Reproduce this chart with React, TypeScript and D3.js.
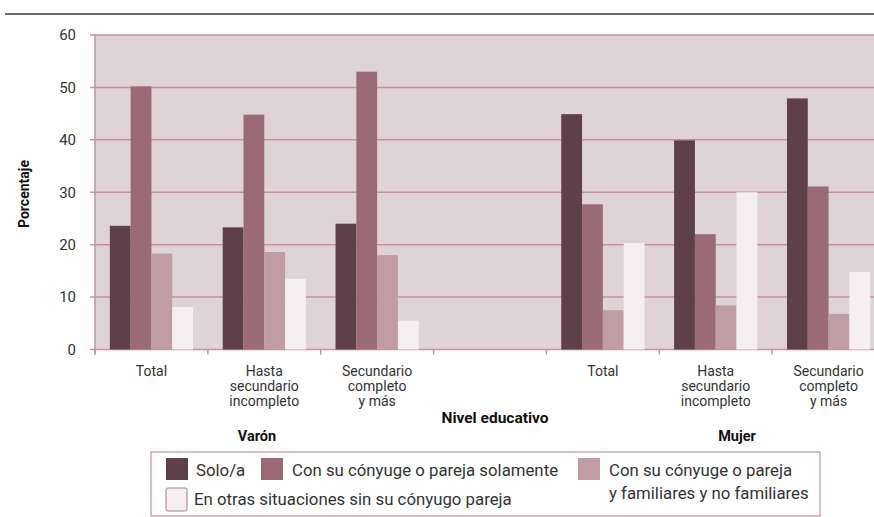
import React from "react";
import * as d3 from "d3";

const categories = ["V-Total", "V-Hasta", "V-Sec", "gap", "M-Total", "M-Hasta", "M-Sec"];
const categoryLabels: string[][] = [
  ["Total"],
  ["Hasta", "secundario", "incompleto"],
  ["Secundario", "completo", "y más"],
  [],
  ["Total"],
  ["Hasta", "secundario", "incompleto"],
  ["Secundario", "completo", "y más"],
];
const seriesNames = [
  "Solo/a",
  "Con su cónyuge o pareja solamente",
  "Con su cónyuge o pareja y familiares y no familiares",
  "En otras situaciones sin su cónyugo pareja",
];
const solo = [23.6, 23.3, 24.0, null, 44.9, 39.9, 47.9];
const conPareja = [50.2, 44.8, 53.0, null, 27.7, 22.0, 31.1];
const conParejaFam = [18.3, 18.6, 18.0, null, 7.5, 8.4, 6.8];
const otras = [8.1, 13.5, 5.5, null, 20.3, 30.0, 14.8];
const yTicks = [0, 10, 20, 30, 40, 50, 60];

const series = [solo, conPareja, conParejaFam, otras];
const colors = ["#5e404a", "#9a6a76", "#c09da5", "#f5eff1"];
const gridColor = "#c98fa0";
const font = "Roboto, 'Liberation Sans', sans-serif";
const textColor = "#333";

export default function App() {
  const left = 95;
  const top = 35;
  const bottom = 349.5;
  const x = d3.scaleBand<string>().domain(categories).range([left, left + 790]).padding(0);
  const y = d3.scaleLinear().domain([0, 60]).range([bottom, top]);
  const step = x.bandwidth();
  const bw = 20.8;
  const groupOffset = (step - bw * 4) / 2;

  const tickXs = categories.map((c) => x(c)!).concat([left + 790]);
  const legendFs = 16.8;

  return (
    <svg width={874} height={517} style={{ position: "absolute", left: 0, top: 0, display: "block" }}>
      <rect x={0} y={0} width={874} height={517} fill="#fff" />
      <line x1={5} x2={874} y1={14} y2={14} stroke="#6b6b6b" strokeWidth={2} />
      <rect x={left} y={top} width={874 - left} height={bottom - top} fill="#dfd3d7" />
      {yTicks.map((t) => (
        <g key={t}>
          <line x1={left - 5} x2={874} y1={y(t)} y2={y(t)} stroke={gridColor} strokeWidth={1.5} />
          <text x={76} y={y(t)} dy="0.35em" textAnchor="end" fontSize={15} fontFamily={font} fill={textColor}>
            {t}
          </text>
        </g>
      ))}
      <line x1={left} x2={left} y1={top} y2={bottom + 5} stroke={gridColor} strokeWidth={1.5} />
      {series.map((s, si) =>
        categories.map((c, ci) => {
          const v = s[ci];
          if (v == null) return null;
          const bx = x(c)! + groupOffset + si * bw;
          return (
            <rect key={`${si}-${ci}`} x={bx} y={y(v)} width={bw} height={bottom - y(v)} fill={colors[si]} />
          );
        })
      )}
      {tickXs.map((tx, i) => (
        <line key={i} x1={tx} x2={tx} y1={bottom} y2={bottom + 5} stroke={gridColor} strokeWidth={1.5} />
      ))}
      {categoryLabels.map((lines, ci) =>
        lines.map((ln, li) => (
          <text
            key={`${ci}-${li}`}
            x={x(categories[ci])! + step / 2}
            y={376 + li * 15}
            textAnchor="middle"
            fontSize={14}
            fontFamily={font}
            fill={textColor}
          >
            {ln}
          </text>
        ))
      )}
      <text
        transform="translate(29,194) rotate(-90)"
        textAnchor="middle"
        fontSize={14}
        fontWeight="bold"
        fontFamily={font}
        fill="#111"
      >
        Porcentaje
      </text>
      <text x={495} y={423} textAnchor="middle" fontSize={15.5} fontWeight="bold" fontFamily={font} fill="#111">
        Nivel educativo
      </text>
      <text x={257} y={441} textAnchor="middle" fontSize={14.5} fontWeight="bold" fontFamily={font} fill="#111">
        Varón
      </text>
      <text x={737} y={441} textAnchor="middle" fontSize={14.5} fontWeight="bold" fontFamily={font} fill="#111">
        Mujer
      </text>
      <g>
        <rect x={151} y={452} width={669} height={64} fill="#fff" stroke={gridColor} strokeWidth={1.2} />
        <rect x={166} y={458} width={22} height={22} fill={colors[0]} />
        <text x={196} y={476} fontSize={legendFs} fontFamily={font} fill={textColor}>{seriesNames[0]}</text>
        <rect x={261} y={458} width={22} height={22} fill={colors[1]} />
        <text x={292} y={476} fontSize={legendFs} fontFamily={font} fill={textColor}>{seriesNames[1]}</text>
        <rect x={578} y={458} width={22} height={22} fill={colors[2]} />
        <text x={609} y={476} fontSize={legendFs} fontFamily={font} fill={textColor}>Con su cónyuge o pareja</text>
        <text x={609} y={499} fontSize={legendFs} fontFamily={font} fill={textColor}>y familiares y no familiares</text>
        <rect x={166} y={488} width={21} height={23} rx={2} fill={colors[3]} stroke="#a77b87" strokeWidth={1} />
        <text x={194} y={505} fontSize={legendFs} fontFamily={font} fill={textColor}>{seriesNames[3]}</text>
      </g>
    </svg>
  );
}
